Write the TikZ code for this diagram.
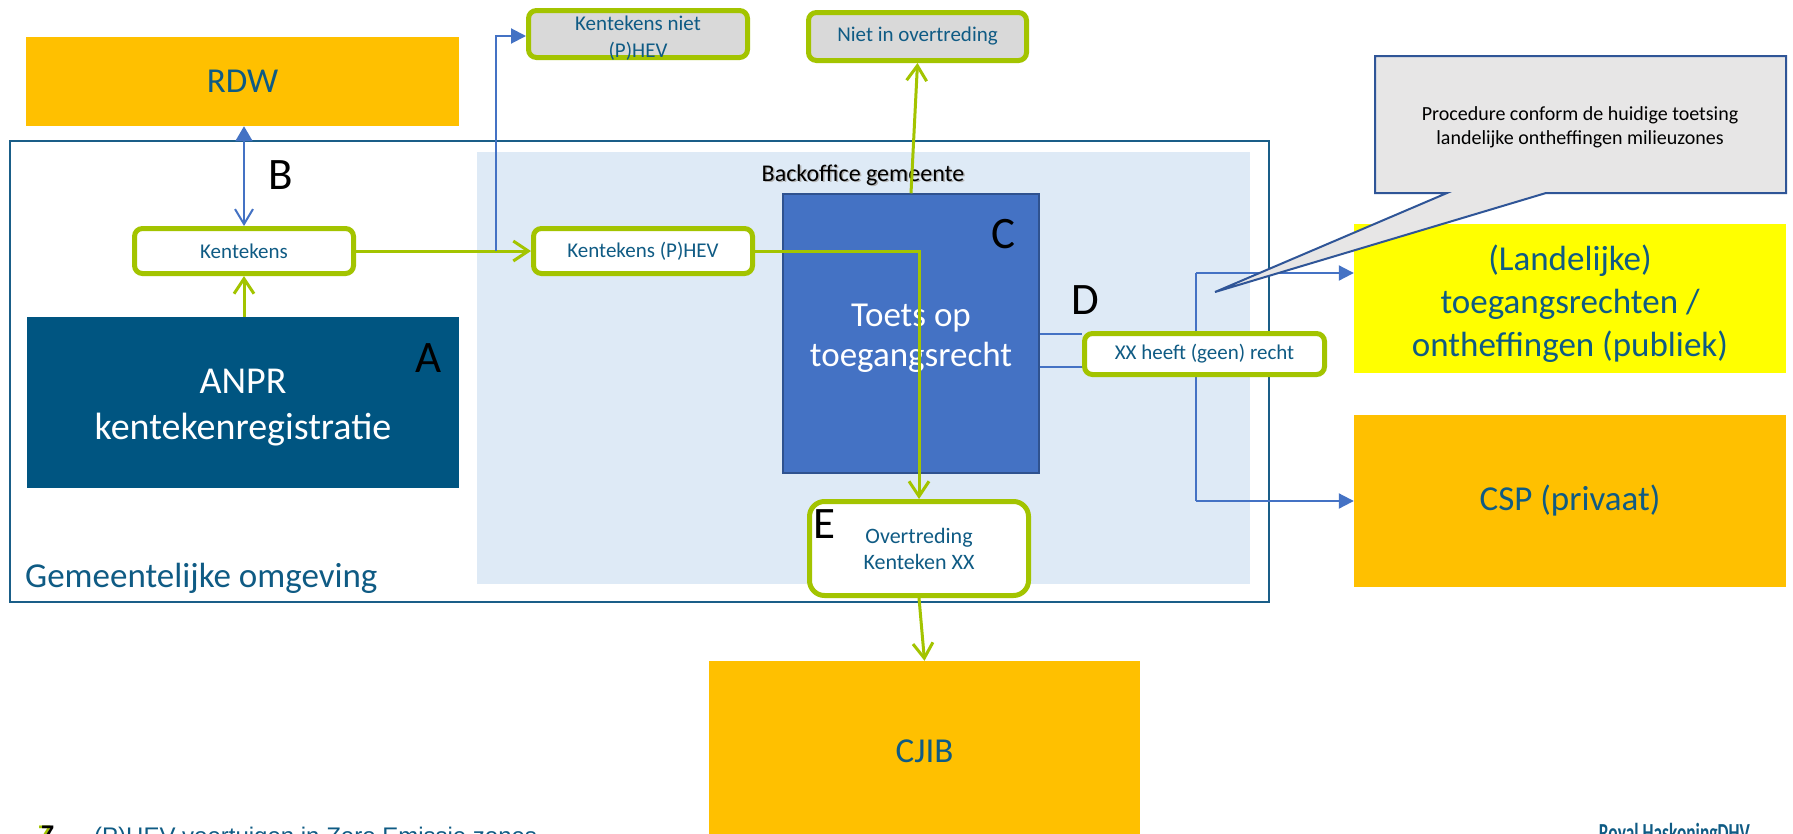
\documentclass[tikz,border=0pt]{standalone}
\usepackage{fontspec}
\usepackage{graphicx}
\setmainfont{Carlito}
\newfontfamily\arialf{Liberation Sans}
\usetikzlibrary{arrows.meta}
\definecolor{rhtext}{HTML}{0F5B84}
\definecolor{anprblue}{HTML}{005581}
\definecolor{bgblue}{HTML}{DEEAF6}
\definecolor{cblue}{HTML}{4472C4}
\definecolor{cborder}{HTML}{2F528F}
\definecolor{rgreen}{HTML}{A3C400}
\definecolor{rorange}{HTML}{FFC000}
\definecolor{ryellow}{HTML}{FFFF00}
\definecolor{ngrey}{HTML}{D9D9D9}
\definecolor{callgrey}{HTML}{E7E6E6}
\definecolor{callborder}{HTML}{2F5597}
\definecolor{framec}{HTML}{1A5E88}
\tikzset{
  greenbox/.style={draw=rgreen, line width=5pt, rounded corners=8pt, fill=white,
    text=rhtext, font=\fontsize{21}{28}\selectfont, align=center, inner sep=0pt},
  bigbox/.style={text=rhtext, font=\fontsize{35}{43}\selectfont, align=center, inner sep=0pt},
  bigletter/.style={font=\fontsize{45}{45}\selectfont, text=black, inner sep=0pt},
  garrow/.style={draw=rgreen, line width=3pt, -{Straight Barb[length=15pt,width=20pt,line width=3pt]}},
  barrow/.style={draw=cblue, line width=2pt, -{Triangle[length=15pt,width=15pt]}},
  bline/.style={draw=cblue, line width=2pt},
}
\begin{document}
\begin{tikzpicture}[x=1pt,y=-1pt]
\useasboundingbox (0,0) rectangle (1793,833);
\fill[white] (0,0) rectangle (1793,833);

% containers
\node[draw=framec, line width=2pt, minimum width=1259pt, minimum height=461pt, inner sep=0pt] (gem) at (639.5,371.5) {};
\node[fill=bgblue, minimum width=773pt, minimum height=432pt, inner sep=0pt] (bo) at (863.5,368) {};
\node[text=black!30, font=\fontsize{24}{28}\selectfont, inner sep=0pt] (botitles) at (864.5,176.5) {Backoffice gemeente};
\node[text=black, font=\fontsize{24}{28}\selectfont, inner sep=0pt] (botitle) at (863,175) {Backoffice gemeente};
\node[text=rhtext, font=\fontsize{35}{43}\selectfont, anchor=west, inner sep=0pt] (gemtitle) at (25,578) {Gemeentelijke omgeving};

% big boxes
\node[bigbox, fill=rorange, minimum width=433pt, minimum height=89pt] (rdw) at (242.5,81.5) {RDW};
\node[bigbox, fill=anprblue, text=white, minimum width=432pt, minimum height=171pt, font=\fontsize{38}{46}\selectfont] (anpr) at (243,402.5) {};
\node[text=white, font=\fontsize{38}{46}\selectfont, align=center, inner sep=0pt] (anprtext) at (243,408) {ANPR\\kentekenregistratie};
\node[bigbox, fill=ryellow, minimum width=432pt, minimum height=149pt] (land) at (1570,298.5) {};
\node[bigbox] (landtext) at (1570,303.5) {(Landelijke)\\toegangsrechten /\\ontheffingen (publiek)};
\node[bigbox, fill=rorange, minimum width=432pt, minimum height=172pt] (csp) at (1570,501) {CSP (privaat)};
\node[bigbox, fill=rorange, minimum width=431pt, minimum height=180pt] (cjib) at (924.5,751) {CJIB};
\node[bigbox, fill=cblue, draw=cborder, line width=1.5pt, minimum width=256pt, minimum height=279pt] (toets) at (911,333.5) {};
\node[text=white, font=\fontsize{35}{40}\selectfont, align=center, inner sep=0pt] (toetstext) at (911,338.5) {Toets op\\toegangsrecht};

% green-bordered boxes
\node[greenbox, minimum width=219pt, minimum height=45pt] (kent) at (244,251) {Kentekens};
\node[greenbox, minimum width=219pt, minimum height=45pt] (phev) at (643,251) {Kentekens (P)HEV};
\node[greenbox, fill=ngrey, minimum width=219pt, minimum height=47pt] (niet) at (638,34) {};
\node[text=rhtext, font=\fontsize{21}{27}\selectfont, align=center, inner sep=0pt] (niettext) at (638,38) {Kentekens niet\\(P)HEV};
\node[greenbox, fill=ngrey, minimum width=218pt, minimum height=48pt] (nov) at (917.5,36.5) {Niet in overtreding};
\node[greenbox, rounded corners=15pt, minimum width=219pt, minimum height=94pt, font=\fontsize{22}{26}\selectfont] (ebox) at (919,548.5) {Overtreding\\Kenteken XX};

% blue bracket to the right side (behind XX box)
\coordinate (jtop) at (1196,273);
\coordinate (jbot) at (1196,501);
\draw[bline] (jtop) -- (jbot);
\draw[barrow] (jtop) -- (jtop -| land.west);
\draw[barrow] (jbot) -- (jbot -| csp.west);

% lines from C to XX
\node[greenbox, minimum width=240pt, minimum height=41pt] (xx) at (1204.5,354) {XX heeft (geen) recht};
\draw[bline] (toets.east) -- (toets.east -| xx.west);
\draw[bline] ([yshift=-33.5pt]toets.east) -- ([yshift=-33.5pt]toets.east -| xx.west);

% connectors
\draw[garrow] (kent.east) -- (phev.west);
\coordinate (br) at (496,251);
\draw[barrow] (br) |- ([yshift=-2pt]niet.west);
\draw[draw=cblue, line width=2pt, {Triangle[length=15pt,width=17pt]}-{Straight Barb[length=15pt,width=18pt,line width=2pt]}] (kent.north |- rdw.south) -- (kent.north);
\draw[garrow] (kent.south |- anpr.north) -- (kent.south);
\draw[garrow] (phev.east) -| (ebox.north);
\draw[garrow] (toets.north) -- (nov.south);
\draw[garrow] (ebox.south) -- (cjib.north);

% letters
\node[bigletter] (la) at (429,358) {A};
\node[bigletter] (lb) at (281,175) {B};
\node[bigletter] (lc) at (1003,234) {C};
\node[bigletter] (ld) at (1085,300) {D};
\node[bigletter] (le) at (824,524) {E};

% callout
\draw[fill=callgrey, draw=callborder, line width=2pt] (1375,56) -- (1786,56) -- (1786,193) -- (1546,193) -- (1215,292) -- (1447,193) -- (1375,193) -- cycle;
\node[text=black, font=\fontsize{20}{24}\selectfont, align=center, inner sep=0pt] (calltext) at (1580,127) {Procedure conform de huidige toetsing\\landelijke ontheffingen milieuzones};

% footer (cut off by page edge)
\node[anchor=base west, inner sep=0pt, text=rgreen, font=\arialf\bfseries\fontsize{24}{28}\selectfont] (sevs) at (38,842) {7};
\node[anchor=base west, inner sep=0pt, text=black, font=\arialf\bfseries\fontsize{24}{28}\selectfont] (sev) at (41,842) {7};
\node[anchor=base west, inner sep=0pt, text=rhtext, font=\arialf\fontsize{24}{28}\selectfont] (foot) at (94,844) {(P)HEV voertuigen in Zero Emissie zones};
\node[anchor=base east, inner sep=0pt, text=rhtext, font=\bfseries\fontsize{26}{30}\selectfont] (logo) at (1750,841) {\scalebox{0.67}[1]{Royal HaskoningDHV}};
\end{tikzpicture}
\end{document}
